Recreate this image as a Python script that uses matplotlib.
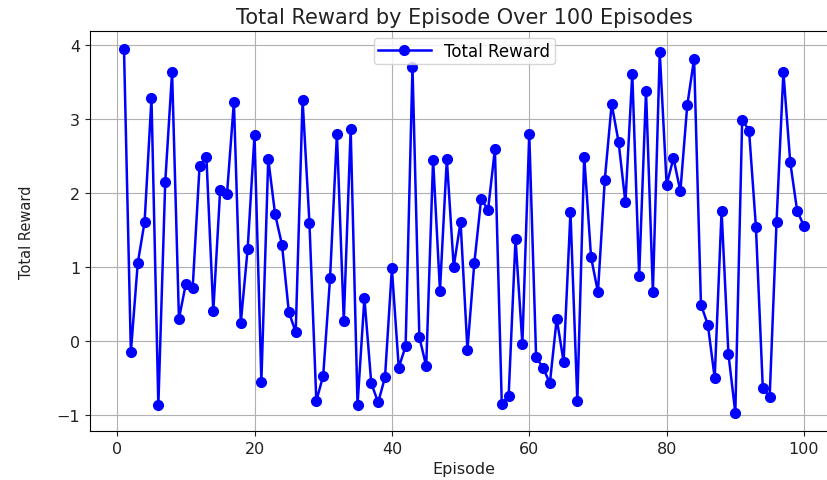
import matplotlib
matplotlib.use("Agg")
import matplotlib.pyplot as plt

episodes = list(range(1, 101))
total_reward = [
    3.94, -0.15, 1.05, 1.61, 3.28, -0.87, 2.14, 3.63, 0.30, 0.77,
    0.72, 2.36, 2.48, 0.40, 2.04, 1.99, 3.23, 0.24, 1.24, 2.78,
    -0.55, 2.46, 1.71, 1.30, 0.39, 0.12, 3.26, 1.59, -0.81, -0.47,
    0.85, 2.80, 0.27, 2.86, -0.86, 0.58, -0.57, -0.83, -0.49, 0.98,
    -0.36, -0.07, 3.70, 0.05, -0.34, 2.45, 0.68, 2.46, 1.00, 1.61,
    -0.12, 1.05, 1.92, 1.77, 2.59, -0.85, -0.74, 1.38, -0.04, 2.80,
    -0.22, -0.36, -0.57, 0.30, -0.28, 1.74, -0.81, 2.49, 1.13, 0.66,
    2.18, 3.20, 2.69, 1.87, 3.61, 0.88, 3.38, 0.66, 3.90, 2.11,
    2.47, 2.02, 3.18, 3.81, 0.49, 0.22, -0.50, 1.76, -0.18, -0.97,
    2.99, 2.84, 1.54, -0.63, -0.76, 1.60, 3.63, 2.41, 1.76, 1.55,
]

title = "Total Reward by Episode Over 100 Episodes"
xlabel = "Episode"
ylabel = "Total Reward"
series_label = "Total Reward"

fig = plt.figure(figsize=(8.28, 4.81), dpi=100)
ax = fig.add_axes([90 / 828, 49 / 481, 748 / 828, 400 / 481])

ax.plot(episodes, total_reward, color="blue", marker="o", markersize=7,
        linewidth=1.8, label=series_label)
ax.set_title(title, fontsize=15, color="#222222", pad=6)
ax.set_xlabel(xlabel, fontsize=11.5, color="#222222")
ax.set_ylabel(ylabel, fontsize=10.5, color="#222222", labelpad=16)
ax.tick_params(labelsize=11.5, colors="#222222")
ax.set_xticks([0, 20, 40, 60, 80, 100])
ax.set_yticks([-1, 0, 1, 2, 3, 4])
ax.grid(True, color="#b0b0b0", linewidth=0.8)
ax.legend(loc="upper center", fontsize=12, handlelength=3.2,
          borderpad=0.25, borderaxespad=0.4)

fig.savefig("out.png", dpi=100)
